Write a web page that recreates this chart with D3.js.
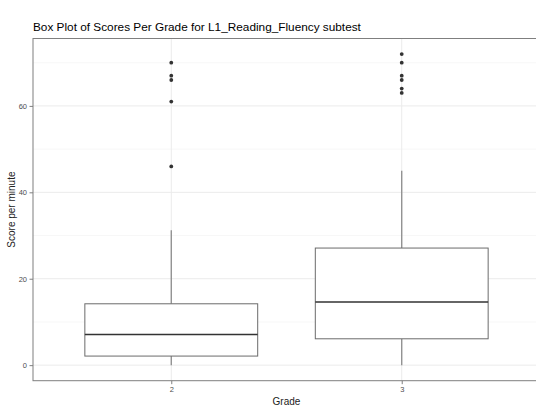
<!DOCTYPE html>
<html>
<head>
<meta charset="utf-8">
<script src="https://cdn.jsdelivr.net/npm/d3@7"></script>
<style>
  body { margin: 0; background: #fff; }
  text { font-family: "Liberation Sans", Arial, sans-serif; }
</style>
</head>
<body>
<script>
const width = 536;
const height = 407;

// Data
const grades = ['2', '3'];
const lowerWhisker = [0, 0];
const q1 = [2.1, 6.1];
const median = [7.1, 14.6];
const q3 = [14.2, 27.1];
const upperWhisker = [31.2, 45];
const outliers = [
  [46, 61, 66, 67, 70],
  [63, 64, 66, 67, 70, 72]
];
const yTicks = [0, 20, 40, 60];
const yMinor = [10, 30, 50, 70];

// Panel edges (the right edge is cropped by the picture)
const panelLeft = 33, panelTop = 38.5, panelBottom = 380.7, panelRight = 540;

// ggplot discrete: 0.6 units of expansion on each side
const pad = (panelRight - panelLeft) * 0.6 / 2.2;
const xp = d3.scalePoint()
  .domain(grades)
  .range([panelLeft + pad, panelRight - pad]);
const boxW = xp.step() * 0.75;

const y = d3.scaleLinear()
  .domain([-3.6, 75.6])
  .range([panelBottom, panelTop]);

const svg = d3.select('body').append('svg')
  .attr('width', width)
  .attr('height', height);

// Title
svg.append('text')
  .attr('x', panelLeft)
  .attr('y', 31)
  .attr('font-size', 11.8)
  .attr('fill', '#000')
  .text('Box Plot of Scores Per Grade for L1_Reading_Fluency subtest');

// Grid
const grid = svg.append('g');
grid.selectAll('.minor').data(yMinor).enter().append('line')
  .attr('x1', panelLeft).attr('x2', panelRight)
  .attr('y1', d => y(d)).attr('y2', d => y(d))
  .attr('stroke', '#f2f2f2').attr('stroke-width', 0.6);
grid.selectAll('.major').data(yTicks).enter().append('line')
  .attr('x1', panelLeft).attr('x2', panelRight)
  .attr('y1', d => y(d)).attr('y2', d => y(d))
  .attr('stroke', '#ebebeb').attr('stroke-width', 1);
grid.selectAll('.vmajor').data(grades).enter().append('line')
  .attr('x1', d => xp(d)).attr('x2', d => xp(d))
  .attr('y1', panelTop).attr('y2', panelBottom)
  .attr('stroke', '#ebebeb').attr('stroke-width', 1);

// Boxes
const boxes = svg.append('g')
  .selectAll('g')
  .data(grades)
  .enter().append('g');

boxes.append('line')
  .attr('x1', d => xp(d)).attr('x2', d => xp(d))
  .attr('y1', (d, i) => y(upperWhisker[i])).attr('y2', (d, i) => y(q3[i]))
  .attr('stroke', '#8c8c8c').attr('stroke-width', 1.3);
boxes.append('line')
  .attr('x1', d => xp(d)).attr('x2', d => xp(d))
  .attr('y1', (d, i) => y(q1[i])).attr('y2', (d, i) => y(lowerWhisker[i]))
  .attr('stroke', '#8c8c8c').attr('stroke-width', 1.3);
boxes.append('rect')
  .attr('x', d => xp(d) - boxW / 2)
  .attr('width', boxW)
  .attr('y', (d, i) => y(q3[i]))
  .attr('height', (d, i) => y(q1[i]) - y(q3[i]))
  .attr('fill', '#fff')
  .attr('stroke', '#6b6b6b').attr('stroke-width', 1);
boxes.append('line')
  .attr('x1', d => xp(d) - boxW / 2).attr('x2', d => xp(d) + boxW / 2)
  .attr('y1', (d, i) => y(median[i])).attr('y2', (d, i) => y(median[i]))
  .attr('stroke', '#333').attr('stroke-width', 1.6);
boxes.selectAll('circle')
  .data((d, i) => outliers[i].map(v => ({ g: d, v })))
  .enter().append('circle')
  .attr('cx', d => xp(d.g))
  .attr('cy', d => y(d.v))
  .attr('r', 1.9)
  .attr('fill', '#333');

// Panel border
svg.append('rect')
  .attr('x', panelLeft).attr('y', panelTop)
  .attr('width', panelRight - panelLeft).attr('height', panelBottom - panelTop)
  .attr('fill', 'none')
  .attr('stroke', '#7f7f7f').attr('stroke-width', 1);

// Axes
const yAxis = svg.append('g')
  .attr('transform', `translate(${panelLeft},0)`)
  .call(d3.axisLeft(y).tickValues(yTicks).tickSize(3.5).tickPadding(2.5));
const xAxis = svg.append('g')
  .attr('transform', `translate(0,${panelBottom})`)
  .call(d3.axisBottom(xp).tickSize(3.5).tickPadding(2));
[yAxis, xAxis].forEach(a => {
  a.select('.domain').remove();
  a.selectAll('.tick line').attr('stroke', '#7f7f7f');
  a.selectAll('.tick text')
    .attr('fill', '#4d4d4d')
    .attr('font-size', 7.5)
    .attr('font-family', '"Liberation Sans", Arial, sans-serif');
});

// Axis titles
svg.append('text')
  .attr('x', (panelLeft + panelRight) / 2)
  .attr('y', 405)
  .attr('text-anchor', 'middle')
  .attr('font-size', 10)
  .attr('fill', '#222')
  .text('Grade');
svg.append('text')
  .attr('transform', `translate(15,${(panelTop + panelBottom) / 2}) rotate(-90)`)
  .attr('text-anchor', 'middle')
  .attr('font-size', 10)
  .attr('fill', '#222')
  .text('Score per minute');
</script>
</body>
</html>
